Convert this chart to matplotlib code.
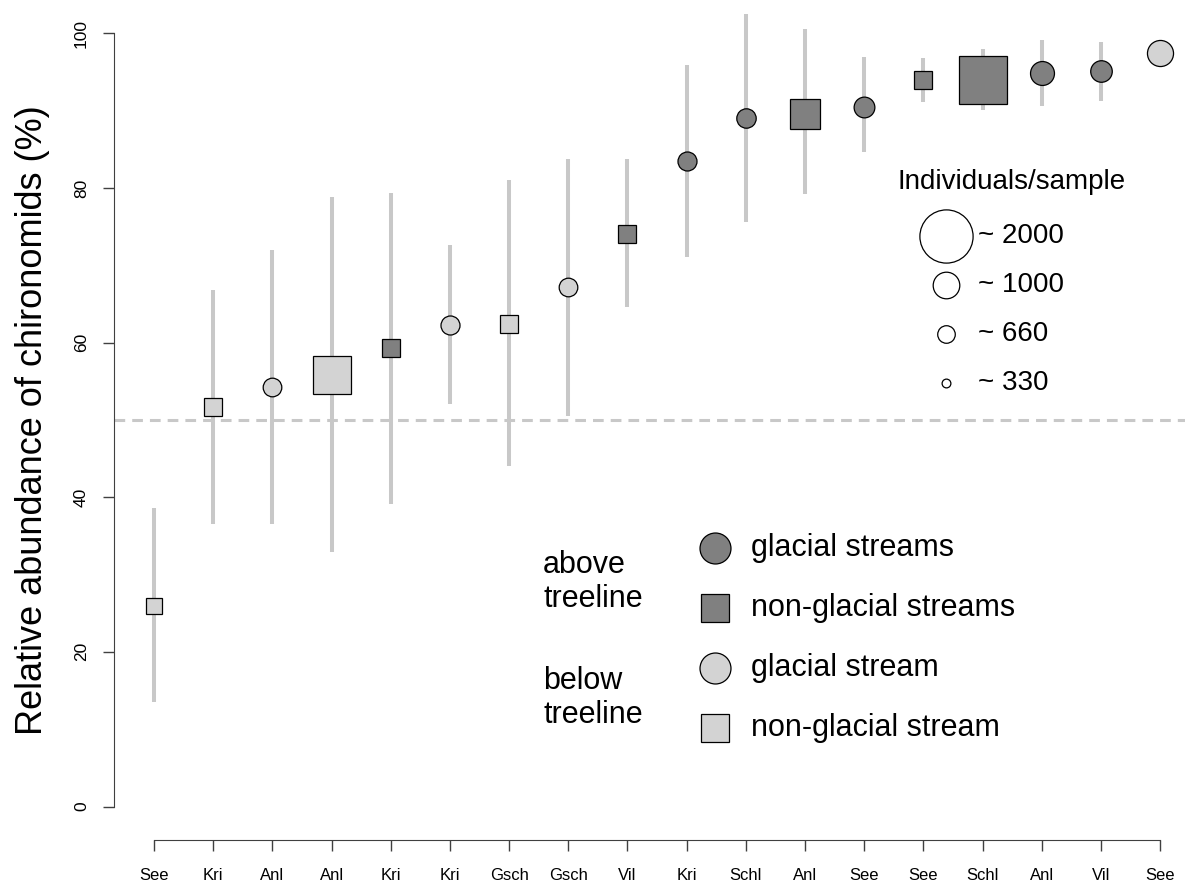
import numpy as np
import matplotlib.pyplot as plt
from matplotlib.lines import Line2D

plt.rcParams["font.family"] = ["Liberation Sans", "DejaVu Sans"]

# sites, in plotting order
sites = ["See", "Kri", "Anl", "Anl", "Kri", "Kri", "Gsch", "Gsch", "Vil",
         "Kri", "Schl", "Anl", "See", "See", "Schl", "Anl", "Vil", "See"]
# relative abundance of chironomids (%)
mean_pct = [25.9, 51.7, 54.3, 55.8, 59.3, 62.3, 62.4, 67.2, 74.1,
            83.5, 89.1, 89.6, 90.5, 93.9, 94.0, 94.8, 95.1, 97.5]
low_pct = [13.5, 36.5, 36.6, 32.9, 39.1, 52.0, 44.0, 50.5, 64.6,
           71.0, 75.6, 79.2, 84.6, 91.1, 90.1, 90.6, 91.3, np.nan]
high_pct = [38.6, 66.8, 72.0, 78.8, 79.4, 72.6, 81.0, 83.8, 83.8,
            95.9, 102.5, 100.5, 96.9, 96.8, 97.9, 99.1, 98.9, np.nan]
# stream type and position relative to treeline
glacial = [False, False, True, False, False, True, False, True, False,
           True, True, False, True, False, False, True, True, True]
above = [False, False, False, False, True, False, False, False, True,
         True, True, True, True, True, True, True, True, False]
# individuals per sample (marker size)
individuals = [710, 760, 700, 1600, 760, 715, 790, 700, 750,
               715, 730, 1290, 780, 760, 2020, 900, 810, 980]

size_keys = [2000, 1000, 660, 330]

DARK = "#808080"
LIGHT = "#d3d3d3"
BAR = "#c8c8c8"
DPI = 100


def diam_pt(n):
    # circle diameter grows linearly with the count (about 53 px for 2000)
    return n * 0.0266 * 72 / DPI


fig = plt.figure(figsize=(11.9, 8.85), dpi=DPI)
W, H = 1190, 885
ax = fig.add_axes([114 / W, 45 / H, (1185 - 114) / W, 840 / H])

x = np.arange(len(sites))
ax.set_xlim(-0.676, 17.42)
ax.set_ylim(-4.33, 104.3)

ax.axhline(50, color=BAR, lw=2.2, ls=(0, (3.5, 2.3)), zorder=1)

for i in x:
    if not np.isnan(low_pct[i]):
        ax.plot([i, i], [low_pct[i], high_pct[i]], color=BAR, lw=2.9,
                solid_capstyle="butt", zorder=2, clip_on=False)
    d = diam_pt(individuals[i])
    if glacial[i]:
        mk, ms = "o", d
    else:
        mk, ms = "s", d * 0.886
    ax.plot(i, mean_pct[i], marker=mk, ms=ms, mfc=DARK if above[i] else LIGHT,
            mec="black", mew=0.9, ls="none", zorder=3, clip_on=False)

for s in ["top", "right"]:
    ax.spines[s].set_visible(False)
ax.spines["left"].set_bounds(0, 100)
ax.spines["bottom"].set_bounds(0, 17)
ax.spines["left"].set_color("#404040")
ax.spines["bottom"].set_color("#404040")
ax.set_xticks(x)
ax.set_xticklabels(sites, fontsize=12)
ax.set_yticks(range(0, 101, 20))
ax.set_yticklabels([str(v) for v in range(0, 101, 20)], fontsize=12.5,
                   rotation=90, va="center")
ax.tick_params(axis="both", length=8, width=1, color="#404040", pad=12)
ax.tick_params(axis="y", pad=10)
ax.set_ylabel("Relative abundance of chironomids (%)", fontsize=26,
              labelpad=17)

# size legend
fig.text(897 / W, 1 - 182 / H, "Individuals/sample", fontsize=20,
         va="center", ha="left")
for k, n in enumerate(size_keys):
    yy = 1 - (236 + 49 * k) / H
    fig.add_artist(Line2D([946 / W], [yy], marker="o", ms=diam_pt(n),
                          mfc="white", mec="black", mew=0.9, ls="none"))
    fig.text(978 / W, yy, "~ %d" % n, fontsize=20, va="center", ha="left")

# group legend
groups = [("o", DARK, "glacial streams"), ("s", DARK, "non-glacial streams"),
          ("o", LIGHT, "glacial stream"), ("s", LIGHT, "non-glacial stream")]
for k, (mk, col, lab) in enumerate(groups):
    yy = 1 - (548 + 60 * k) / H
    fig.add_artist(Line2D([715 / W], [yy], marker=mk,
                          ms=22.3 if mk == "o" else 20.2,
                          mfc=col, mec="black", mew=0.9, ls="none"))
    fig.text(751 / W, yy, lab, fontsize=22, va="center", ha="left")
fig.text(543 / W, 1 - 582 / H, "above\ntreeline", fontsize=22, va="center",
         ha="left", linespacing=1.15)
fig.text(543 / W, 1 - 698 / H, "below\ntreeline", fontsize=22, va="center",
         ha="left", linespacing=1.15)

fig.savefig("out.png", dpi=DPI)
